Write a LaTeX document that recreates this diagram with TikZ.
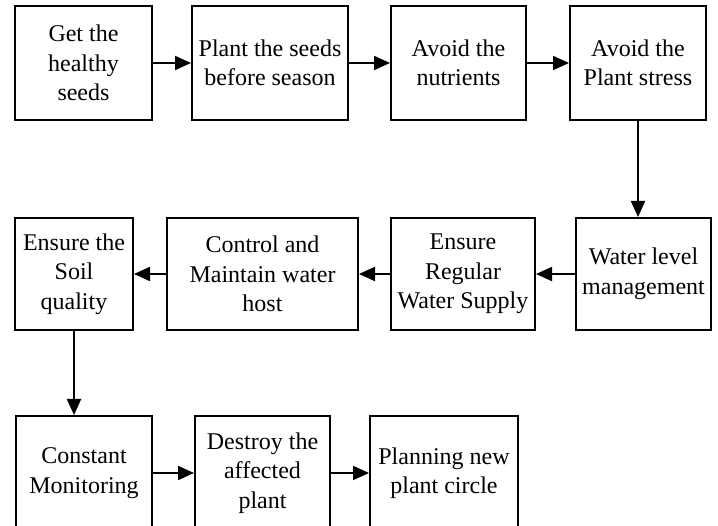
\documentclass[tikz,border=0pt]{standalone}
\usepackage{fontspec}
\setmainfont{Liberation Serif}
\usetikzlibrary{arrows.meta}
\tikzset{
  box/.style={draw=black, line width=2pt, inner sep=0pt, align=center,
    font=\fontsize{24}{29.5}\selectfont},
  conn/.style={line width=2pt, -{Triangle[length=16pt,width=14pt]}}
}
\newcommand{\bx}[6]{% name, x1, x2, y1, y2, text
  \node[box, minimum width={#3-#2}, minimum height={#5-#4}] (#1) at ({(#2+#3)/2},{(#4+#5)/2}) {#6};}
\begin{document}
\begin{tikzpicture}[x=1pt,y=-1pt]
\useasboundingbox (0,0) rectangle (718,526);
\clip (0,0) rectangle (718,526);
% row 1
\bx{a}{15}{152}{6}{120}{Get the\\healthy\\seeds}
\bx{b}{192}{348}{6}{120}{Plant the seeds\\before season}
\bx{c}{391}{526}{6}{120}{Avoid the\\nutrients}
\bx{d}{570}{706}{6}{120}{Avoid the\\Plant stress}
% row 2
\bx{e}{576}{711}{218}{330}{Water level\\management}
\bx{f}{391}{535}{218}{330}{Ensure\\Regular\\Water Supply}
\bx{g}{167}{358}{218}{330}{Control and\\Maintain water\\host}
\bx{h}{15}{133}{218}{330}{Ensure the\\Soil\\quality}
% row 3
\bx{i}{16}{152}{416}{530}{Constant\\Monitoring}
\bx{j}{195}{330}{416}{530}{Destroy the\\affected\\plant}
\bx{k}{370}{518}{416}{530}{Planning new\\plant circle}
% connectors
\draw[conn] (a) -- (b);
\draw[conn] (b) -- (c);
\draw[conn] (c) -- (d);
\draw[conn] (d.south) -- (d.south |- e.north);
\draw[conn] (e) -- (f);
\draw[conn] (f) -- (g);
\draw[conn] (g) -- (h);
\draw[conn] (h.south) -- (h.south |- i.north);
\draw[conn] (i) -- (j);
\draw[conn] (j) -- (k);
\end{tikzpicture}
\end{document}
